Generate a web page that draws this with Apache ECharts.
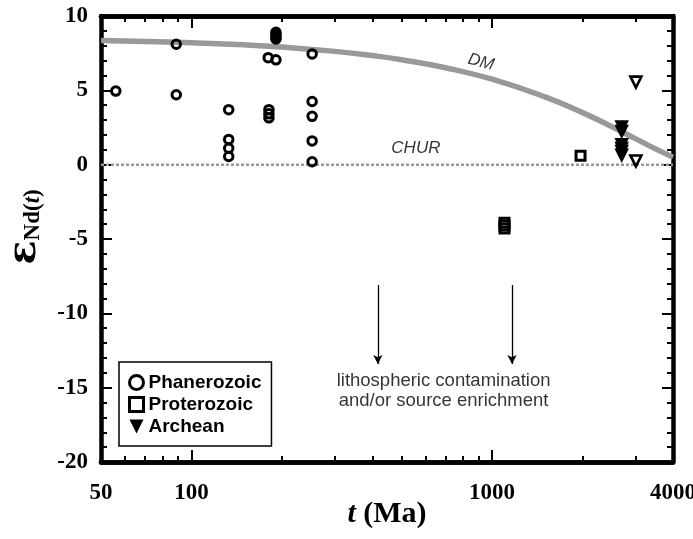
<!DOCTYPE html>
<html>
<head>
<meta charset="utf-8">
<script src="https://cdn.jsdelivr.net/npm/echarts@6/dist/echarts.min.js"></script>
<style>
  html, body { margin: 0; padding: 0; background: #fff; }
  #chart { width: 693px; height: 539px; }
</style>
</head>
<body>
<div id="chart"></div>
<script>
// εNd(t) against age t (Ma), log age axis.
const phanerozoic = [
  [56, 4.95], [89, 8.1], [89, 4.7],
  [133, 3.7], [133, 1.7], [133, 1.1], [133, 0.55],
  [180, 7.2], [191, 7.05], [181, 3.7], [181, 3.42], [181, 3.15],
  [191, 8.45], [191, 8.6], [191, 8.75], [191, 8.9],
  [252, 7.45], [252, 4.25], [252, 3.25], [252, 1.6], [252, 0.2]
];
const proterozoic = [[1970, 0.6], [1100, -3.9], [1100, -4.1], [1100, -4.3]];
const archeanFilled = [[2700, 2.5], [2700, 2.2], [2700, 1.3], [2700, 1.05], [2700, 0.85], [2700, 0.6]];
const archeanOpen = [[3010, 5.55], [3010, 0.25]];

// Depleted-mantle evolution curve (DM) and chondritic reference (CHUR)
const dmAge = [50, 70, 100, 150, 200, 300, 400, 500, 700, 1000, 1500, 2000, 2500, 3000, 3500, 4000];
const dmEps = [8.35, 8.29, 8.20, 8.06, 7.91, 7.62, 7.34, 7.06, 6.52, 5.75, 4.56, 3.50, 2.56, 1.75, 1.06, 0.50];
const churAge = [50, 4000];
const churEps = [0, 0];

// Axis ticks
const xLabelValues = [50, 100, 1000, 4000];
const xMajorTicks = [100, 1000];
const xMinorTicks = [60, 70, 80, 90, 200, 300, 400, 500, 600, 700, 800, 900, 2000, 3000];

// Annotation anchors (age, εNd)
const arrowAges = [417, 1165];
const arrowFrom = -8.1;
const arrowTo = -13.4;
const notePos = [690, -15.2];
const churPos = [558, 1.1];
const dmPos = [918, 6.9];

const serif = 'Liberation Serif';
const sans = 'Liberation Sans';

function xAxisDef(position, ticks, tickLen, withLabels) {
  return {
    type: 'log', logBase: 10, min: 50, max: 4000, position: position,
    axisLine: { show: true, onZero: false, lineStyle: { color: '#000', width: 4.5 } },
    axisTick: { show: true, inside: true, length: tickLen, customValues: ticks,
      lineStyle: { color: '#000', width: 2 } },
    axisLabel: { show: withLabels, customValues: xLabelValues, margin: 20,
      formatter: v => String(Math.round(v)),
      color: '#000', fontFamily: serif, fontWeight: 'bold', fontSize: 23 },
    splitLine: { show: false }, minorTick: { show: false }
  };
}

function yAxisDef(position, withLabels) {
  return {
    type: 'value', min: -20, max: 10, interval: 5, position: position,
    axisLine: { show: true, onZero: false, lineStyle: { color: '#000', width: 4.5 } },
    axisTick: { show: true, inside: true, length: 11, lineStyle: { color: '#000', width: 2 } },
    minorTick: { show: true, splitNumber: 5, length: 6, lineStyle: { color: '#000', width: 2 } },
    axisLabel: { show: withLabels, margin: 13, color: '#000', fontFamily: serif,
      fontWeight: 'bold', fontSize: 23 },
    splitLine: { show: false }
  };
}

const xMain = xAxisDef('bottom', xMajorTicks, 12, true);
xMain.name = '{it|t}{rm| (Ma)}';
xMain.nameLocation = 'middle';
xMain.nameGap = 37;
xMain.nameMoveOverlap = false;
xMain.nameTextStyle = {
  rich: {
    it: { fontFamily: serif, fontWeight: 'bold', fontStyle: 'italic', fontSize: 30, color: '#000' },
    rm: { fontFamily: serif, fontWeight: 'bold', fontSize: 30, color: '#000' }
  }
};

const yMain = yAxisDef('left', true);
yMain.name = '{eps|ε}{sub|Nd(}{subi|t}{sub|)}';
yMain.nameLocation = 'middle';
yMain.nameRotate = 90;
yMain.nameGap = 56;
yMain.nameTextStyle = {
  padding: [0, 0, 0, 24],
  rich: {
    eps: { fontFamily: 'DejaVu Serif', fontWeight: 'bold', fontSize: 40, color: '#000' },
    sub: { fontFamily: serif, fontWeight: 'bold', fontSize: 23, color: '#000', verticalAlign: 'bottom' },
    subi: { fontFamily: serif, fontWeight: 'bold', fontStyle: 'italic', fontSize: 23, color: '#000', verticalAlign: 'bottom' }
  }
};

const openStyle = { color: 'rgba(0,0,0,0)', borderColor: '#000', borderWidth: 3, opacity: 1 };

const archeanData = archeanFilled.map(p => ({ value: p }))
  .concat(archeanOpen.map(p => ({ value: p, symbolSize: 11,
    itemStyle: { color: '#fff', borderColor: '#000', borderWidth: 2.6, opacity: 1 } })));

const chart = echarts.init(document.getElementById('chart'), null, { renderer: 'canvas' });
chart.setOption({
  animation: false,
  backgroundColor: '#fff',
  grid: { left: 101, right: 20, top: 16, bottom: 77, containLabel: false, outerBoundsMode: 'none' },
  xAxis: [
    xMain,
    xAxisDef('bottom', xMinorTicks, 6, false),
    xAxisDef('top', xMajorTicks, 12, false),
    xAxisDef('top', xMinorTicks, 6, false)
  ],
  yAxis: [yMain, yAxisDef('right', false)],
  legend: {
    left: 119, top: 362, orient: 'vertical',
    padding: [11, 10, 10, 9],
    itemWidth: 14, itemHeight: 14, itemGap: 3,
    borderColor: '#000', borderWidth: 1.5, backgroundColor: '#fff',
    textStyle: { fontFamily: sans, fontWeight: 'bold', fontSize: 19, color: '#000' },
    selectedMode: false,
    data: [
      { name: 'Phanerozoic', icon: 'circle',
        itemStyle: { color: '#fff', borderColor: '#000', borderWidth: 3, opacity: 1 } },
      { name: 'Proterozoic', icon: 'rect',
        itemStyle: { color: '#fff', borderColor: '#000', borderWidth: 3, opacity: 1 } },
      { name: 'Archean', icon: 'path://M0,0L10,0L5,10Z',
        itemStyle: { color: '#000', borderWidth: 0, opacity: 1 } }
    ]
  },
  series: [
    {
      name: 'DM', type: 'line', smooth: true, showSymbol: false, symbol: 'none',
      data: dmAge.map((a, i) => [a, dmEps[i]]),
      lineStyle: { color: '#999', width: 5.5 }, silent: true, z: 1
    },
    {
      name: 'CHUR', type: 'line', showSymbol: false, symbol: 'none',
      data: churAge.map((a, i) => [a, churEps[i]]),
      lineStyle: { color: '#999', width: 2.5, type: [3, 2] }, silent: true, z: 1
    },
    {
      name: 'Phanerozoic', type: 'scatter', symbol: 'circle', symbolSize: 8.5,
      data: phanerozoic, itemStyle: openStyle, z: 3
    },
    {
      name: 'Proterozoic', type: 'scatter', symbol: 'rect', symbolSize: 9,
      data: proterozoic, itemStyle: openStyle, z: 3
    },
    {
      name: 'Archean', type: 'scatter', symbol: 'triangle', symbolRotate: 180, symbolSize: 14.5,
      data: archeanData, itemStyle: { color: '#000', opacity: 1 }, z: 3
    },
    {
      name: 'notes', type: 'scatter', symbolSize: 0, silent: true, z: 4,
      data: [
        { value: churPos, label: { show: true, position: 'inside', formatter: 'CHUR',
          fontFamily: sans, fontStyle: 'italic', fontSize: 17, color: '#000' } },
        { value: dmPos, label: { show: true, position: 'inside', formatter: 'DM', rotate: -15,
          fontFamily: sans, fontStyle: 'italic', fontSize: 17, color: '#000' } },
        { value: notePos, label: { show: true, position: 'inside',
          formatter: 'lithospheric contamination\nand/or source enrichment',
          fontFamily: sans, fontSize: 18.5, lineHeight: 20, align: 'center', color: '#000' } }
      ],
      markLine: {
        silent: true, symbol: ['none', 'arrow'], symbolSize: [7, 9],
        label: { show: false },
        lineStyle: { color: '#000', width: 1.3, type: 'solid' },
        data: arrowAges.map(a => [{ coord: [a, arrowFrom] }, { coord: [a, arrowTo] }])
      }
    }
  ]
});
</script>
</body>
</html>
